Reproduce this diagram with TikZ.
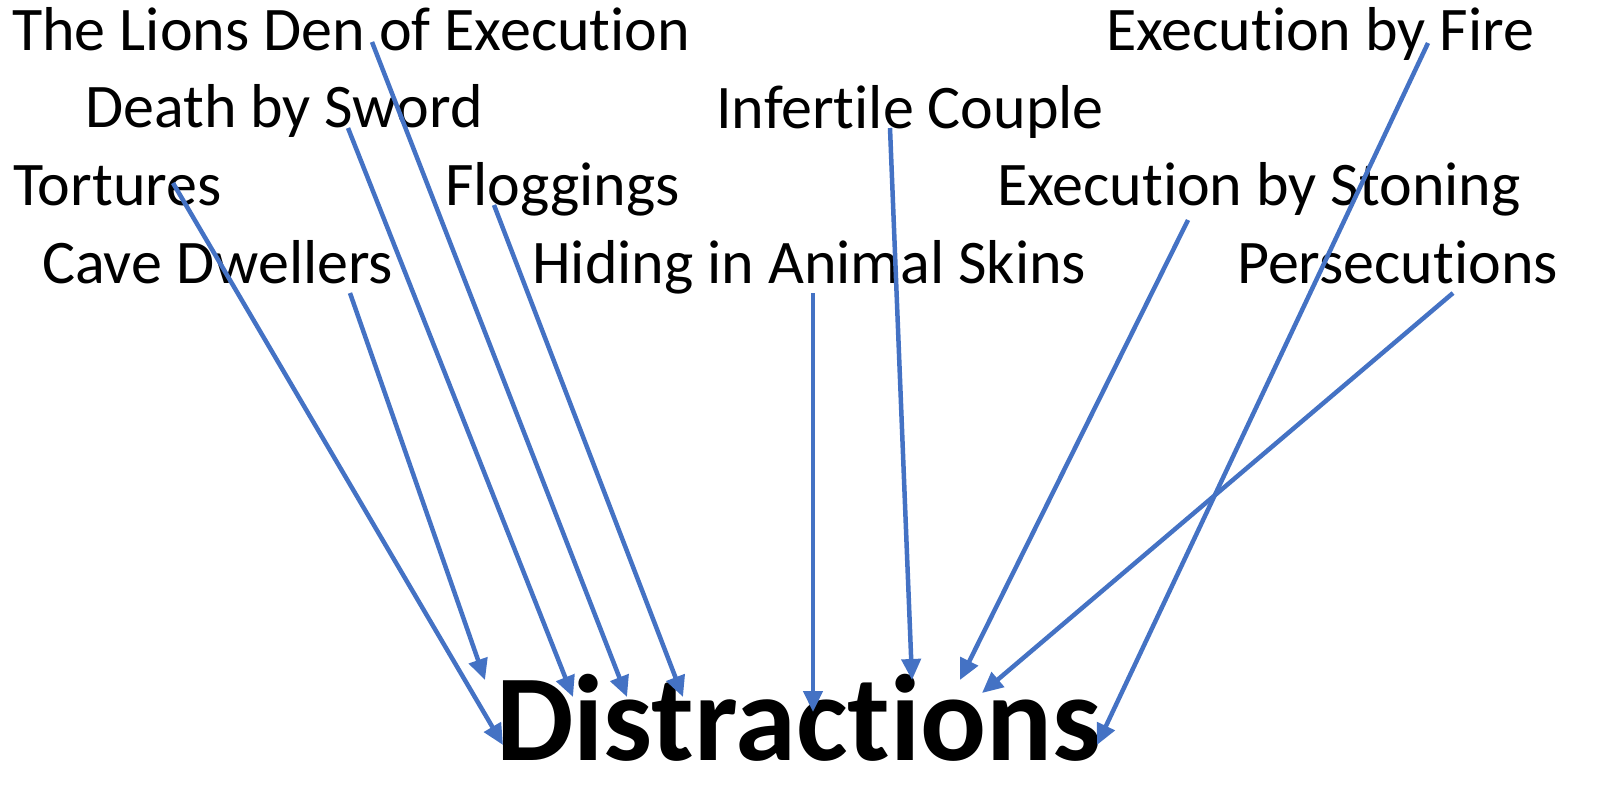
\documentclass[tikz,border=0pt]{standalone}
\usepackage{fontspec}
\setmainfont{Carlito}[Ligatures=NoCommon]
\usetikzlibrary{arrows.meta}
\definecolor{linkblue}{RGB}{68,114,196}
\begin{document}
\begin{tikzpicture}[x=1pt,y=-1pt,
  lbl/.style={anchor=base west,inner sep=0pt,font=\fontsize{62}{62}\selectfont},
  conn/.style={draw=linkblue,line width=4.5pt,-{Triangle[length=21pt,width=19pt]}}]
\useasboundingbox (0,0) rectangle (1622,796);
\node[lbl] (lions) at (12,50) {The Lions Den of Execution};
\node[lbl] (sword) at (85,127) {Death by Sword};
\node[lbl] (tort) at (13,205) {Tortures};
\node[lbl] (cave) at (42,283) {Cave Dwellers};
\node[lbl] (flog) at (445,205) {Floggings};
\node[lbl] (hide) at (532,283) {Hiding in Animal Skins};
\node[lbl] (inf) at (716,128) {Infertile Couple};
\node[lbl] (fire) at (1106,50) {Execution by Fire};
\node[lbl] (stone) at (997,205) {Execution by Stoning};
\node[lbl] (pers) at (1237,283) {Persecutions};
\node[anchor=base west,inner sep=0pt,font=\fontsize{123}{123}\selectfont\bfseries] (dist) at (496,760) {Distractions};
% start points
\coordinate (sTort) at (173,183);
\coordinate (sCave) at (350,293);
\coordinate (sSword) at (348,128);
\coordinate (sLions) at (372,42);
\coordinate (sFlog) at (494,205);
\coordinate (sHide) at (813,293);
\coordinate (sInf) at (890,128);
\coordinate (sStone) at (1188,220);
\coordinate (sPers) at (1453,293);
\coordinate (sFire) at (1428,43);
% arrow tips
\coordinate (tTort) at (503,745);
\coordinate (tCave) at (485,680);
\coordinate (tSword) at (573,697);
\coordinate (tLions) at (627,697);
\coordinate (tFlog) at (683,697);
\coordinate (tHide) at (813,712);
\coordinate (tInf) at (912,680);
\coordinate (tStone) at (960,680);
\coordinate (tPers) at (982,693);
\coordinate (tFire) at (1097,745);
\draw[conn] (sTort) -- (tTort);
\draw[conn] (sCave) -- (tCave);
\draw[conn] (sSword) -- (tSword);
\draw[conn] (sLions) -- (tLions);
\draw[conn] (sFlog) -- (tFlog);
\draw[conn] (sHide) -- (tHide);
\draw[conn] (sInf) -- (tInf);
\draw[conn] (sStone) -- (tStone);
\draw[conn] (sPers) -- (tPers);
\draw[conn] (sFire) -- (tFire);
\end{tikzpicture}
\end{document}
